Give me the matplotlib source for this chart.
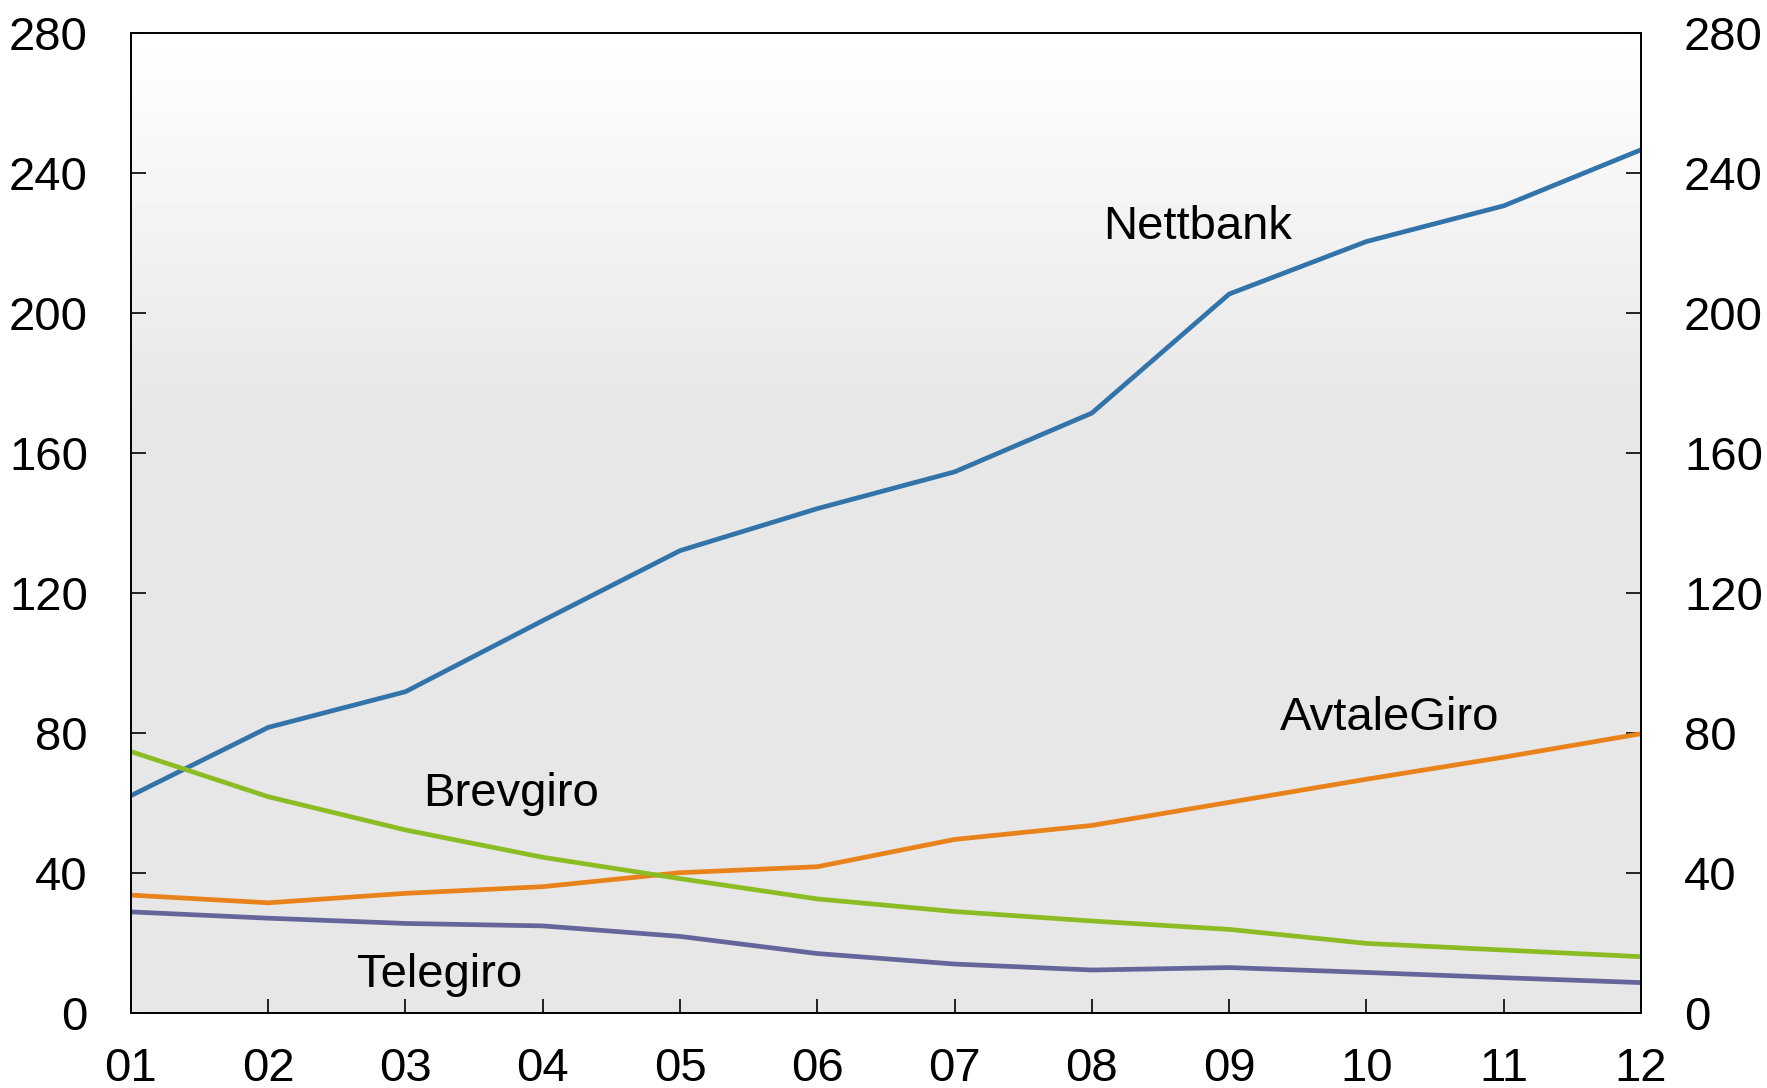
"""
Bill payments by channel, 2001-2012.
"""

import numpy as np
import matplotlib
matplotlib.use("Agg")
import matplotlib.pyplot as plt

plt.rcParams["font.family"] = ["Liberation Sans", "DejaVu Sans"]

years = ["01", "02", "03", "04", "05", "06", "07", "08", "09", "10", "11", "12"]
nettbank = [62, 81.5, 91.7, 112, 132, 144, 154.5, 171.3, 205.3, 220.3, 230.5, 246.5]
avtalegiro = [33.6, 31.4, 34.1, 36, 40, 41.7, 49.5, 53.5, 60.1, 66.7, 73, 79.7]
brevgiro = [74.6, 61.7, 52.2, 44.4, 38.3, 32.5, 28.9, 26.2, 23.8, 19.8, 17.9, 16]
telegiro = [28.8, 27, 25.5, 24.8, 21.8, 16.9, 13.9, 12.2, 12.9, 11.5, 10, 8.6]

series = [("Nettbank", nettbank, "#3274aa", (7.08, 221.0)),
          ("AvtaleGiro", avtalegiro, "#e8821a", (8.37, 80.8)),
          ("Brevgiro", brevgiro, "#8cbc24", (2.13, 59.1)),
          ("Telegiro", telegiro, "#65659b", (1.65, 7.4))]

fig = plt.figure(figsize=(17.67, 10.88), dpi=100)
ax = fig.add_axes([0.0741, 0.0692, 0.8546, 0.9009])

# background: white at top fading to light grey
n = 200
frac = np.linspace(0, 1, n)  # 0 = top
shade = np.where(frac < 0.38, 1.0 - (1.0 - 0.906) * frac / 0.38, 0.906)
grad = np.repeat(shade[:, None], 2, axis=1)
ax.imshow(grad, extent=[0, 1, 0, 1], transform=ax.transAxes, aspect="auto",
          cmap="gray", vmin=0, vmax=1, zorder=0, interpolation="bilinear")

x = np.arange(len(years))
for name, values, color, (tx, ty) in series:
    ax.plot(x, values, color=color, lw=3.4, solid_capstyle="butt",
            solid_joinstyle="round", zorder=2)
    ax.text(tx, ty, name, fontsize=34, ha="left", va="baseline", zorder=3)

ax.set_xlim(0, len(years) - 1)
ax.set_ylim(0, 280)
ax.set_xticks(x)
ax.set_xticklabels(years)
ax.set_yticks(range(0, 281, 40))

for spine in ax.spines.values():
    spine.set_linewidth(1.4)
    spine.set_color("black")

ax.tick_params(axis="y", direction="in", length=11, width=1.2, pad=31,
               labelsize=34, left=True, right=True, labelleft=True,
               labelright=True)
ax.tick_params(axis="x", direction="in", length=10, width=1.2, pad=25,
               labelsize=34, top=False)

fig.savefig("out.png", dpi=100)
